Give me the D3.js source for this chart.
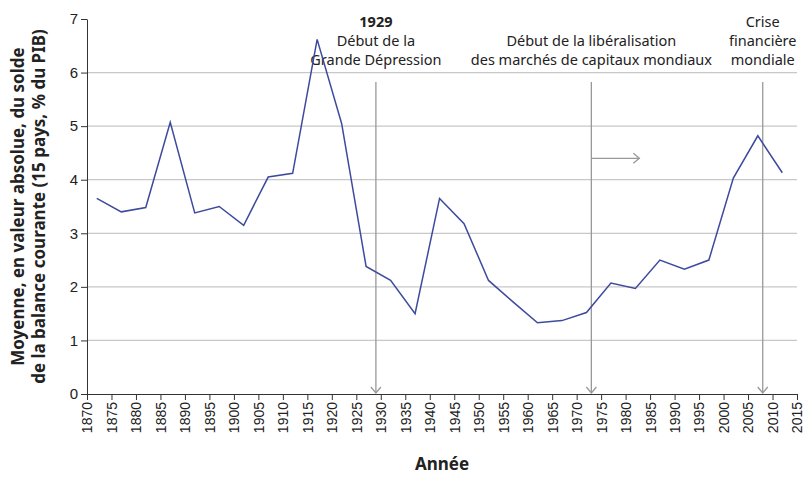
<!DOCTYPE html>
<html><head><meta charset="utf-8">
<script src="https://cdn.jsdelivr.net/npm/d3@7"></script>
<style>body{margin:0;background:#fff;font-family:"Noto Sans",sans-serif;}</style>
</head><body><div id="chart"></div>
<script>
var years = [1872,1877,1882,1887,1892,1897,1902,1907,1912,1917,1922,1927,1932,1937,1942,1947,1952,1957,1962,1967,1972,1977,1982,1987,1992,1997,2002,2007,2012];
var values = [3.65,3.4,3.48,5.07,3.38,3.5,3.15,4.05,4.12,6.62,5.05,2.38,2.12,1.5,3.65,3.18,2.12,1.72,1.33,1.37,1.52,2.07,1.97,2.5,2.33,2.5,4.03,4.82,4.13];
var events = [
  {year: 1929, lines: ["1929", "Début de la", "Grande Dépression"], bold: true},
  {year: 1973, lines: ["", "Début de la libéralisation", "des marchés de capitaux mondiaux"]},
  {year: 2008, lines: ["Crise", "financière", "mondiale"]}
];

var margin = {top: 19, right: 13, bottom: 91, left: 87};
var width = 810 - margin.left - margin.right;
var height = 485 - margin.top - margin.bottom;

var svg = d3.select("#chart").append("svg").attr("width", 810).attr("height", 485)
  .append("g").attr("transform", "translate(" + margin.left + "," + margin.top + ")");

var x = d3.scaleLinear().domain([1870, 2015]).range([0, width]);
var y = d3.scaleLinear().domain([0, 7]).range([height, 0]);

// gridlines
svg.selectAll(".grid").data(d3.range(1, 7)).enter().append("line")
  .attr("x1", 0).attr("x2", width).attr("y1", y).attr("y2", y)
  .attr("stroke", "#c8c8c8").attr("stroke-width", 1.2);

var xAxis = svg.append("g").attr("transform", "translate(0," + height + ")")
  .call(d3.axisBottom(x).tickValues(d3.range(1870, 2016, 5)).tickFormat(d3.format("d")).tickSize(6).tickSizeOuter(0));
xAxis.selectAll("text").attr("transform", "rotate(-90)").attr("text-anchor", "end")
  .attr("x", -8).attr("y", 0).attr("dy", "0.35em").style("font-size", "14px").style("fill", "#222");

var yAxis = svg.append("g").call(d3.axisLeft(y).ticks(7).tickSize(6).tickSizeOuter(0));
yAxis.selectAll("text").style("font-size", "15px").style("fill", "#222");
svg.selectAll(".domain, .tick line").attr("stroke", "#333");

// event markers
var gEv = svg.selectAll(".ev").data(events).enter().append("g");
gEv.append("line").attr("x1", d => x(d.year)).attr("x2", d => x(d.year))
  .attr("y1", 63).attr("y2", height - 1).attr("stroke", "#999").attr("stroke-width", 1.3);
gEv.append("path").attr("d", d => "M" + (x(d.year) - 5) + "," + (height - 7) + "L" + x(d.year) + "," + (height - 1) + "L" + (x(d.year) + 5) + "," + (height - 7))
  .attr("fill", "none").attr("stroke", "#999").attr("stroke-width", 1.3);
gEv.each(function(d) {
  var g = d3.select(this);
  d.lines.forEach(function(t, i) {
    g.append("text").attr("x", x(d.year)).attr("y", 13 + i * 19 - 5)
      .attr("text-anchor", "middle").style("font-size", "14.5px").style("fill", "#222")
      .style("font-weight", (d.bold && i === 0) ? "bold" : "normal").text(t);
  });
});
// arrow for liberalisation
var ax = x(1973);
svg.append("line").attr("x1", ax).attr("x2", ax + 48).attr("y1", y(4.4)).attr("y2", y(4.4)).attr("stroke", "#999").attr("stroke-width", 1.3);
svg.append("path").attr("d", "M" + (ax + 42) + "," + (y(4.4) - 5) + "L" + (ax + 48) + "," + y(4.4) + "L" + (ax + 42) + "," + (y(4.4) + 5))
  .attr("fill", "none").attr("stroke", "#999").attr("stroke-width", 1.3);

// series
svg.append("path").datum(d3.zip(years, values))
  .attr("d", d3.line().x(d => x(d[0])).y(d => y(d[1])))
  .attr("fill", "none").attr("stroke", "#3d4a9e").attr("stroke-width", 1.5);

// axis titles
svg.append("text").attr("x", width / 2).attr("y", height + 76).attr("text-anchor", "middle")
  .style("font-size", "17px").style("font-weight", "bold").style("fill", "#222").text("Année");
var yt = svg.append("text").attr("transform", "translate(-60," + height / 2 + ") rotate(-90)")
  .attr("text-anchor", "middle").style("font-size", "17px").style("font-weight", "bold").style("fill", "#222");
yt.append("tspan").attr("x", 0).attr("dy", "-0.2em").text("Moyenne, en valeur absolue, du solde");
yt.append("tspan").attr("x", 0).attr("dy", "1.25em").text("de la balance courante (15 pays, % du PIB)");
</script></body></html>
